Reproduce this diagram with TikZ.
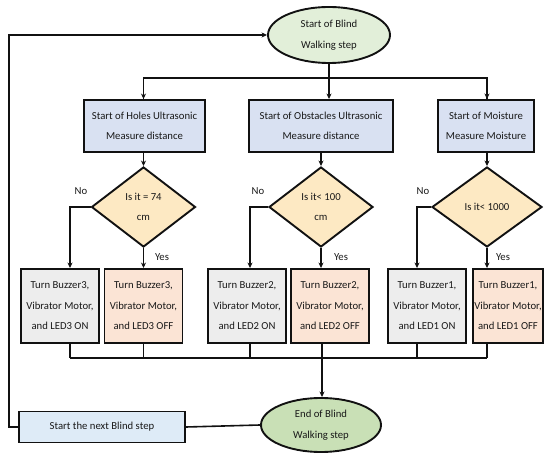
\documentclass[tikz,border=0pt]{standalone}
\usepackage{fontspec}
\setmainfont{Carlito}
\usetikzlibrary{shapes.geometric,arrows.meta}
\definecolor{greenA}{HTML}{E2EFD9}
\definecolor{greenB}{HTML}{C9E0B6}
\definecolor{blueBox}{HTML}{D9E1F2}
\definecolor{tanD}{HTML}{FDE9C3}
\definecolor{greyBox}{HTML}{EDEDED}
\definecolor{orangeBox}{HTML}{FBE4D5}
\definecolor{nextBlue}{HTML}{DEEBF7}
\definecolor{edge}{HTML}{111111}
\tikzset{
  txt/.style={font=\fontsize{10.7}{20.5}\selectfont, align=center, text=black!90},
  oval/.style={txt, ellipse, draw=edge, line width=1.9pt, minimum width=122pt, minimum height=56pt, inner sep=0pt},
  mbox/.style={txt, rectangle, draw=edge, line width=1.9pt, fill=blueBox, minimum height=52pt, inner sep=0pt},
  dec/.style={txt, diamond, aspect=1.3, draw=edge, line width=1.9pt, fill=tanD, minimum width=104pt, minimum height=80pt, inner sep=0pt},
  actbox/.style={txt, rectangle, draw=edge, line width=1.9pt, minimum width=78pt, minimum height=74pt, inner sep=0pt},
  conn/.style={draw=edge, line width=1.6pt},
  arr/.style={conn, -{Stealth[length=5.5pt,width=5pt]}},
  lab/.style={txt, inner sep=0pt}
}
\begin{document}
\begin{tikzpicture}[x=1pt,y=1pt]
\useasboundingbox (0,0) rectangle (548,452);
% top ellipse
\node[oval, fill=greenA] (start) at (329,417) {Start of Blind\\Walking step};
% measurement boxes
\node[mbox, minimum width=121pt] (m1) at (144.5,326) {Start of Holes Ultrasonic\\Measure distance};
\node[mbox, minimum width=144pt] (m2) at (321,326) {Start of Obstacles Ultrasonic\\Measure distance};
\node[mbox, minimum width=96pt] (m3) at (486,326) {Start of Moisture\\Measure Moisture};
% decisions
\node[dec] (d1) at (143.5,245) {Is it = 74\\cm};
\node[dec] (d2) at (321,245) {Is it{<} 100\\cm};
\node[dec, minimum width=110pt] (d3) at (487,245) {Is it{<} 1000};
% action boxes
\node[actbox, fill=greyBox] (a1) at (60,146) {Turn Buzzer3,\\Vibrator Motor,\\and LED3 ON};
\node[actbox, fill=orangeBox] (b1) at (143.5,146) {Turn Buzzer3,\\Vibrator Motor,\\and LED3 OFF};
\node[actbox, fill=greyBox] (a2) at (247,146) {Turn Buzzer2,\\Vibrator Motor,\\and LED2 ON};
\node[actbox, fill=orangeBox] (b2) at (330,146) {Turn Buzzer2,\\Vibrator Motor,\\and LED2 OFF};
\node[actbox, fill=greyBox] (a3) at (427,146) {Turn Buzzer1,\\Vibrator Motor,\\and LED1 ON};
\node[actbox, fill=orangeBox, minimum width=70pt] (b3) at (508,146) {Turn Buzzer1,\\Vibrator Motor,\\and LED1 OFF};
% end ellipse and next step
\node[oval, fill=greenB, minimum width=120pt, minimum height=54pt] (end) at (321,27) {End of Blind\\Walking step};
\node[txt, rectangle, draw=edge, line width=1.9pt, fill=nextBlue, minimum width=166pt, minimum height=31pt, inner sep=0pt] (next) at (102,25) {Start the next Blind step};
% helper coordinates
\coordinate (topbus) at (0,374);
\coordinate (botbus) at (0,94);
\coordinate (n1) at (70,0);
\coordinate (y1) at (143.5,0);
\coordinate (n2) at (250,0);
\coordinate (y2) at (322,0);
\coordinate (n3) at (417,0);
\coordinate (y3) at (487,0);
\coordinate (loopx) at (9,0);
% top distribution
\draw[conn] (m1.north -| y1) |- (start.south |- topbus) -| (m3.north -| y3);
\draw[arr] (y1 |- topbus) -- (m1.north -| y1);
\draw[arr] (y3 |- topbus) -- (m3.north -| y3);
\draw[arr] (start.south) -- (start.south |- m2.north);
% measure to decision
\draw[arr] (m1.south -| y1) -- (d1.north);
\draw[arr] (m2.south) -- (d2.north);
\draw[arr] (m3.south -| y3) -- (d3.north);
% decision branches
\draw[arr] (d1.west) -| (n1 |- a1.north);
\draw[arr] (d1.south) -- (d1.south |- b1.north);
\draw[arr] (d2.west) -| (n2 |- a2.north);
\draw[arr] (d2.south) -- (d2.south |- b2.north);
\draw[arr] (d3.west) -| (n3 |- a3.north);
\draw[arr] (d3.south) -- (d3.south |- b3.north);
\node[lab] (no1) at (81,261) {No};
\node[lab] (no2) at (258,261) {No};
\node[lab] (no3) at (423,261) {No};
\node[lab] (yes1) at (162,195) {Yes};
\node[lab] (yes2) at (341,195) {Yes};
\node[lab] (yes3) at (503,195) {Yes};
% bottom collection
\draw[conn] (n1 |- botbus) -- (y3 |- botbus);
\draw[conn] (n1 |- a1.south) -- (n1 |- botbus);
\draw[conn] (y1 |- b1.south) -- (y1 |- botbus);
\draw[conn] (n2 |- a2.south) -- (n2 |- botbus);
\draw[conn] (y2 |- b2.south) -- (y2 |- botbus);
\draw[conn] (n3 |- a3.south) -- (n3 |- botbus);
\draw[conn] (y3 |- b3.south) -- (y3 |- botbus);
\draw[arr] (y2 |- botbus) -- (y2 |- end.north);
% loop back
\draw[conn] (end.west) -- (next.east);
\draw[arr] (next.west) -| (loopx |- start.west) -- (start.west);
\end{tikzpicture}
\end{document}
